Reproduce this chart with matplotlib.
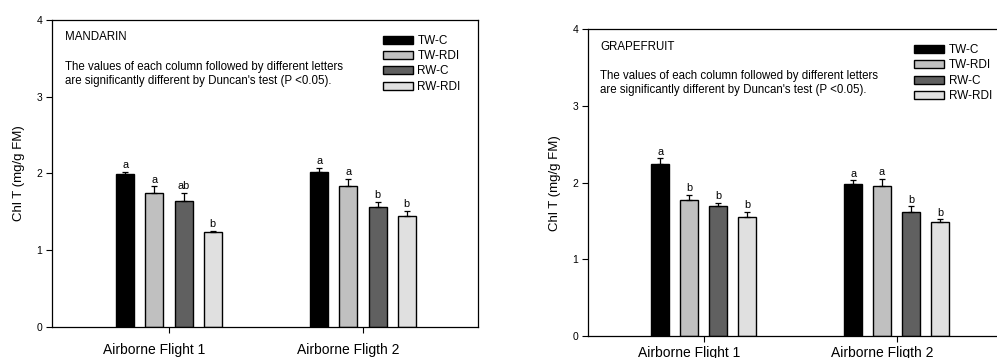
import matplotlib.pyplot as plt
import numpy as np

plt.rcParams['font.family'] = ['Liberation Sans', 'DejaVu Sans']

# Data
groups = ["Airborne Flight 1", "Airborne Fligth 2"]
series = ["TW-C", "TW-RDI", "RW-C", "RW-RDI"]
colors = ["#000000", "#c0c0c0", "#606060", "#e0e0e0"]

mandarin_mean = [[1.99, 1.75, 1.64, 1.24],
                 [2.02, 1.84, 1.56, 1.45]]
mandarin_err = [[0.03, 0.08, 0.11, 0.01],
                [0.05, 0.09, 0.07, 0.06]]
mandarin_letters = [["a", "a", "ab", "b"],
                    ["a", "a", "b", "b"]]

grapefruit_mean = [[2.24, 1.78, 1.69, 1.55],
                   [1.98, 1.96, 1.62, 1.49]]
grapefruit_err = [[0.08, 0.06, 0.05, 0.07],
                  [0.05, 0.09, 0.07, 0.03]]
grapefruit_letters = [["a", "b", "b", "b"],
                      ["a", "a", "b", "b"]]

note = ("The values of each column followed by different letters\n"
        "are significantly different by Duncan's test (P <0.05).")


def panel(fig, rect, xlim, title, means, errs, letters, legend_anchor, label_pad):
    ax = fig.add_axes(rect)
    width = 0.093
    pitch = 0.15
    offsets = (np.arange(len(series)) - 1.5) * pitch
    means = np.array(means)
    errs = np.array(errs)
    for j, name in enumerate(series):
        x = np.arange(len(groups)) + offsets[j]
        ax.bar(x, means[:, j], width, color=colors[j], edgecolor="black",
               linewidth=1.0, label=name, zorder=2)
        ax.errorbar(x, means[:, j], yerr=[np.zeros(len(groups)), errs[:, j]],
                    fmt="none", ecolor="black", elinewidth=0.9, capsize=2.5,
                    capthick=0.9, zorder=3)
        for i in range(len(groups)):
            ax.text(x[i], means[i, j] + errs[i, j] + 0.02, letters[i][j],
                    ha="center", va="bottom", fontsize=7.8)

    ax.set_xlim(*xlim)
    ax.set_ylim(0, 4)
    ax.set_yticks([0, 1, 2, 3, 4])
    # tick marks at group centres, labels sit a little to the left of them
    ax.set_xticks(np.arange(len(groups)))
    ax.set_xticklabels([])
    ax.set_xticks(np.arange(len(groups)) - 0.075, minor=True)
    ax.set_xticklabels(groups, minor=True, fontsize=10)
    ax.tick_params(axis="x", which="minor", length=0, pad=label_pad + 4)
    ax.tick_params(axis="y", direction="out", length=4, width=0.8, labelsize=7.5, pad=3)
    ax.tick_params(axis="x", which="major", direction="out", length=4, width=0.8)
    for s in ax.spines.values():
        s.set_linewidth(0.9)
    ax.set_ylabel("Chl T (mg/g FM)", fontsize=9.5, labelpad=8)

    ax.text(0.03, 0.943, title, transform=ax.transAxes, fontsize=8.3,
            ha="left", va="center")
    ax.text(0.03, 0.825, note, transform=ax.transAxes, fontsize=8.3,
            ha="left", va="center", linespacing=1.25)

    ax.legend(loc="upper left", bbox_to_anchor=legend_anchor, frameon=False,
              fontsize=8.5, handlelength=2.55, handleheight=0.68,
              handletextpad=0.4, labelspacing=0.28, borderpad=0)
    return ax


fig = plt.figure(figsize=(9.97, 3.58), dpi=100)

panel(fig, [0.0522, 0.0874, 0.4273, 0.8567], (-0.603, 1.593), "MANDARIN",
      mandarin_mean, mandarin_err, mandarin_letters, (0.762, 0.971), 8)
panel(fig, [0.5895, 0.0615, 0.4245, 0.8566], (-0.60, 1.593), "GRAPEFRUIT",
      grapefruit_mean, grapefruit_err, grapefruit_letters, (0.757, 0.971), 3)

fig.savefig("out.png", dpi=100)
